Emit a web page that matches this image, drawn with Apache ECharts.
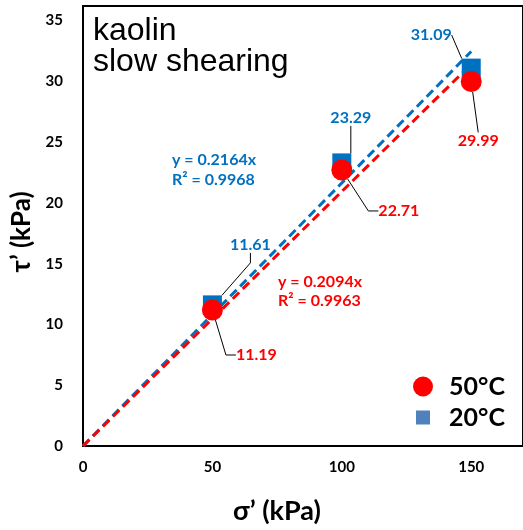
<!DOCTYPE html>
<html><head><meta charset="utf-8">
<script src="https://cdn.jsdelivr.net/npm/echarts@6/dist/echarts.min.js"></script>
<style>html,body{margin:0;padding:0;background:#fff}#c{width:523px;height:530px}</style>
</head><body><div id="c"></div>
<script>
// ---- data ----
const sigma = [50, 100, 150];
const tau50 = [11.19, 22.71, 29.99];
const tau20 = [11.61, 23.29, 31.09];
const slope50 = 0.2094, r2_50 = 0.9963;
const slope20 = 0.2164, r2_20 = 0.9968;
const trendX = [0, 150];
const xTickLabels = ['0', '50', '100', '150'];
const yTickLabels = ['0', '5', '10', '15', '20', '25', '30', '35'];

// ---- layout (label offsets, leader elbow lengths) ----
const off20 = [[38, -60], [9, -45], [-40, -33]];
const off50 = [[44, 45], [57, 41], [7, 59]];
const elbow20 = [10, 0, 0];
const elbow50 = [10, 10, 0];

const BLUE = '#0070C0', RED = '#FF0000';
const FONT = 'Lato, "Open Sans", sans-serif';

const chart = echarts.init(document.getElementById('c'));
const mkScatter = (name, ys, offs, elbows, color, symbol, size) => ({
  type: 'scatter', name: name, symbol: symbol, symbolSize: size,
  itemStyle: {color: color, opacity: 1},
  data: sigma.map((x, i) => ({value: [x, ys[i]], labelLine: {length2: elbows[i]}})),
  label: {show: true, position: 'inside', color: color, fontFamily: FONT, fontWeight: 'bold', fontSize: 16,
    formatter: p => p.value[1].toFixed(2)},
  labelLine: {show: true, lineStyle: {color: '#000', width: 1}},
  labelLayout: p => ({dx: offs[p.dataIndex][0], dy: offs[p.dataIndex][1]}),
  emphasis: {disabled: true}
});
const mkTrend = (slope, color) => ({
  type: 'line', data: trendX.map(x => [x, slope * x]), symbol: 'none', silent: true,
  lineStyle: {color: color, width: 3, type: [9, 5]}, z: 1
});

chart.setOption({
  animation: false,
  grid: {left: 83, top: 6, right: -2, bottom: 82, show: true, borderColor: '#000', borderWidth: 2, backgroundColor: 'transparent'},
  xAxis: {
    type: 'value', min: 0, max: 170, interval: 50,
    name: 'σ’ (kPa)', nameLocation: 'middle', nameGap: 52,
    nameTextStyle: {fontFamily: FONT, fontWeight: 'bold', fontSize: 27, color: '#000', padding: [0, 52, 0, 0]},
    axisLine: {show: true, onZero: false, lineStyle: {color: '#000', width: 2}},
    axisTick: {show: false}, splitLine: {show: false},
    axisLabel: {margin: 14, fontFamily: FONT, fontWeight: 'bold', fontSize: 15, color: '#000', showMaxLabel: false,
      formatter: v => (v % 50 === 0 && v / 50 < xTickLabels.length) ? xTickLabels[v / 50] : ''}
  },
  yAxis: {
    type: 'value', min: 0, max: 36.2, interval: 5,
    name: 'τ’ (kPa)', nameLocation: 'middle', nameGap: 41,
    nameTextStyle: {fontFamily: FONT, fontWeight: 'bold', fontSize: 26, color: '#000', padding: [0, 12, 0, 0]},
    axisLine: {show: true, onZero: false, lineStyle: {color: '#000', width: 2}},
    axisTick: {show: false}, splitLine: {show: false},
    axisLabel: {margin: 20, fontFamily: FONT, fontWeight: 'bold', fontSize: 15, color: '#000', showMaxLabel: false,
      formatter: v => (v % 5 === 0 && v / 5 < yTickLabels.length) ? yTickLabels[v / 5] : ''}
  },
  legend: [
    {data: ['50°C'], left: 413, top: 374, padding: 0, icon: 'circle', itemWidth: 20, itemHeight: 20, selectedMode: false,
      textStyle: {fontFamily: FONT, fontWeight: 'bold', fontSize: 25, color: '#000', lineHeight: 22, padding: [0, 0, 0, 11]}},
    {data: [{name: '20°C', itemStyle: {color: '#4F81BD'}}], left: 416, top: 405, padding: 0, icon: 'rect', itemWidth: 14, itemHeight: 14, selectedMode: false,
      textStyle: {fontFamily: FONT, fontWeight: 'bold', fontSize: 25, color: '#000', lineHeight: 22, padding: [0, 0, 0, 14]}}
  ],
  graphic: [
    {type: 'text', left: 93, top: 15, style: {text: 'kaolin\nslow shearing', font: 'normal 32px "Liberation Sans", Arial, sans-serif', lineHeight: 31, fill: '#000'}},
    {type: 'text', left: 172, top: 150, style: {text: 'y = ' + slope20.toFixed(4) + 'x\nR² = ' + r2_20.toFixed(4), font: 'bold 16px ' + FONT, lineHeight: 20, fill: BLUE}},
    {type: 'text', left: 278, top: 272, style: {text: 'y = ' + slope50.toFixed(4) + 'x\nR² = ' + r2_50.toFixed(4), font: 'bold 16px ' + FONT, lineHeight: 19, fill: RED}}
  ],
  series: [
    mkTrend(slope20, BLUE),
    mkTrend(slope50, RED),
    mkScatter('20°C', tau20, off20, elbow20, BLUE, 'rect', 19),
    mkScatter('50°C', tau50, off50, elbow50, RED, 'circle', 21)
  ]
});
</script></body></html>
